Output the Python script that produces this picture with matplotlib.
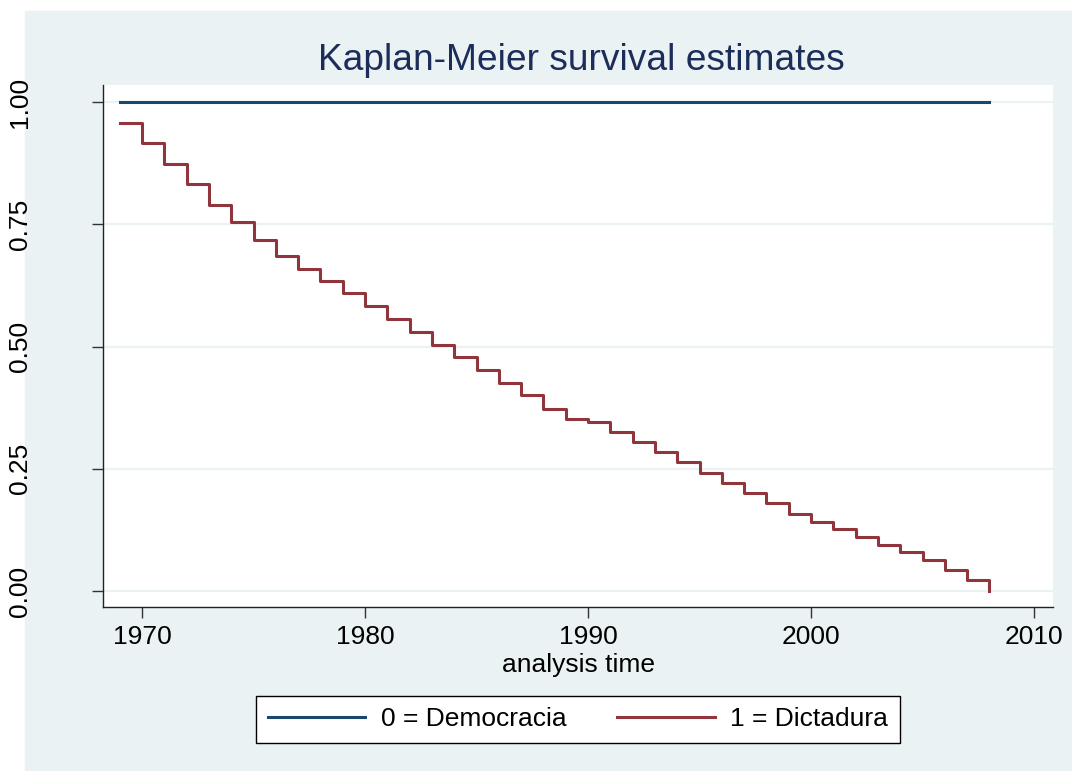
import matplotlib
matplotlib.use("Agg")
import matplotlib.pyplot as plt
from matplotlib.patches import Rectangle

plt.rcParams['font.family'] = ['Liberation Sans', 'DejaVu Sans']

# data
years_dem = [1969, 2008]
surv_dem = [1.0, 1.0]

years_dict = list(range(1969, 2009))
surv_dict = [0.958, 0.916, 0.874, 0.832, 0.789, 0.754, 0.717, 0.686, 0.659, 0.633,
             0.609, 0.582, 0.556, 0.530, 0.503, 0.478, 0.451, 0.426, 0.400, 0.373,
             0.351, 0.346, 0.325, 0.305, 0.284, 0.263, 0.241, 0.220, 0.200, 0.179,
             0.158, 0.141, 0.126, 0.111, 0.095, 0.080, 0.063, 0.043, 0.022, 0.000]

labels = ['0 = Democracia', '1 = Dictadura']
xticks = [1970, 1980, 1990, 2000, 2010]
yticks = [0, 0.25, 0.5, 0.75, 1.0]

W, H = 1072, 771
bg = '#EAF2F3'
navy = '#1A476F'
maroon = '#90353B'

fig = plt.figure(figsize=(W / 100, H / 100), dpi=100)
fig.patch.set_facecolor('white')
fig.patches.append(Rectangle((25 / W, 0), 1 - 25 / W, (H - 11) / H,
                             transform=fig.transFigure, color=bg, zorder=-10))

ax = fig.add_axes([103 / W, (H - 607) / H, (1053 - 103) / W, (607 - 85) / H])
ax.set_facecolor('white')

l1, = ax.step(years_dem, surv_dem, where='post', color=navy, lw=2.2)
l2, = ax.step(years_dict, surv_dict, where='post', color=maroon, lw=2.2)

ax.set_xlim(1968.25, 2010.85)
ax.set_ylim(-0.0327, 1.0348)
ax.set_xticks(xticks)
ax.set_yticks(yticks)
ax.set_yticklabels(['0.00', '0.25', '0.50', '0.75', '1.00'], rotation=90, va='center')
ax.tick_params(axis='both', labelsize=19, length=8, width=1, color='#333333')
ax.tick_params(axis='y', pad=43)
ax.tick_params(axis='x', pad=5)
ax.grid(axis='y', color=bg, lw=1.6)
ax.set_axisbelow(True)
for s in ['top', 'right']:
    ax.spines[s].set_visible(False)
for s in ['left', 'bottom']:
    ax.spines[s].set_color('#222222')
    ax.spines[s].set_linewidth(1)

fig.text(581 / W, 1 - 61 / H, 'Kaplan-Meier survival estimates', ha='center', va='center',
         fontsize=26.7, color='#1C2D5A')
fig.text(578 / W, 1 - 665 / H, 'analysis time', ha='center', va='center', fontsize=19)

leg = fig.legend([l1, l2], labels, ncol=2, loc='center', bbox_to_anchor=(578 / W, 1 - 719.5 / H),
                 fontsize=19, frameon=True, fancybox=False, edgecolor='black',
                 facecolor='white', framealpha=1,
                 handlelength=3.7, columnspacing=1.9, handletextpad=0.6, borderpad=0.45)
leg.get_frame().set_linewidth(1)
for line in leg.get_lines():
    line.set_linewidth(2.2)

fig.savefig('out.png', dpi=100)
